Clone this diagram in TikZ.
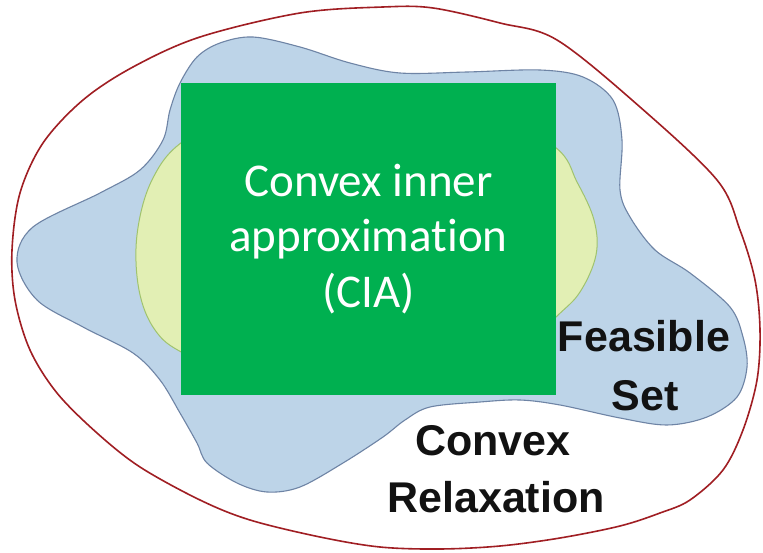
\documentclass[tikz,border=0pt]{standalone}
\usepackage{fontspec}
\newfontfamily\ciafont[Ligatures={NoCommon}]{Carlito}
\newfontfamily\labfont{Liberation Sans}
\definecolor{relaxred}{RGB}{160,30,35}
\definecolor{feasfill}{RGB}{189,212,232}
\definecolor{feasdraw}{RGB}{110,132,165}
\definecolor{ciafill}{RGB}{226,239,180}
\definecolor{ciadraw}{RGB}{160,195,110}
\definecolor{boxgreen}{RGB}{0,176,80}
\begin{document}
\begin{tikzpicture}[x=1pt,y=-1pt,
  labeltext/.style={font=\labfont\bfseries\fontsize{43}{43}\selectfont, text=black!93, inner sep=0pt, anchor=base},
  ciabox/.style={fill=boxgreen, draw=none, minimum width=375pt, minimum height=312pt, inner sep=0pt,
    text=white, align=center, font=\ciafont\fontsize{47}{55.5}\selectfont}]
\useasboundingbox (0,0) rectangle (763,553);
\fill[white] (0,0) rectangle (763,553);
% convex relaxation (outer)
\draw[relaxred, line width=1.6pt] plot[smooth cycle, tension=0.55] coordinates {
  (12,250) (20,193) (43,143) (83,100) (133,67) (200,37) (300,13) (383,7) (433,8) (500,23) (557,40)
  (640,107) (717,180) (740,230) (755,280) (760,330) (757,380) (743,430) (723,470) (690,500)
  (660,513) (620,526) (560,538) (500,546) (440,549) (380,547) (320,537) (250,520) (200,500)
  (140,467) (97,433) (57,393) (30,350) (15,300)};
% feasible set
\draw[feasdraw, fill=feasfill, line width=1.1pt] plot[smooth cycle, tension=0.55] coordinates {
  (197,57) (220,43) (253,37) (300,47) (350,63) (400,73) (467,72) (540,70) (583,77)
  (613,100) (622,140) (620,190) (630,217) (655,250) (690,273) (730,307) (743,337) (747,367)
  (737,397) (707,417) (667,425) (620,418) (560,405) (520,400) (480,402) (430,407) (405,420)
  (383,437) (343,463) (300,487) (267,492) (237,483) (207,463) (197,443) (180,413)
  (160,380) (133,353) (83,327) (37,300) (17,262) (33,227) (100,193) (140,170) (163,140)
  (170,110) (180,83)};
% convex inner approximation region
\draw[ciadraw, fill=ciafill, line width=1pt] plot[smooth cycle, tension=0.6] coordinates {
  (185,140) (152,180) (137,235) (139,290) (155,330) (185,354) (260,385) (380,392) (500,370)
  (555,318) (580,292) (596,255) (594,220) (577,182) (555,147) (480,105) (370,95) (260,105)};
% box
\node[ciabox] (cia) at (368.5,239) {Convex inner\\approximation\\(CIA)};
% labels
\node[labeltext] (feas1) at (644,352) {Feasible};
\node[labeltext] (feas2) at (645,410) {Set};
\node[labeltext] (relax1) at (493,455) {Convex};
\node[labeltext] (relax2) at (496,512) {Relaxation};
\end{tikzpicture}
\end{document}
